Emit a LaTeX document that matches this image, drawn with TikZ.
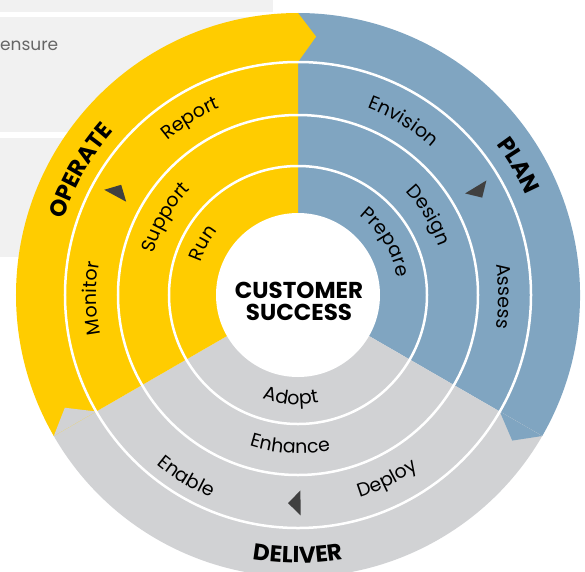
\documentclass[tikz,border=0pt]{standalone}
\usepackage{fontspec}
\setmainfont{Poppins}
\usetikzlibrary{decorations.text}

\definecolor{operatecol}{HTML}{FFCC00}
\definecolor{plancol}{HTML}{80A5C1}
\definecolor{delivercol}{HTML}{D1D2D4}
\definecolor{panelcol}{HTML}{F1F1F1}
\definecolor{markcol}{HTML}{404040}

\newcommand{\stagefont}{\fontsize{19}{21}\selectfont}
\newcommand{\phasefont}{\fontsize{23}{25}\selectfont\bfseries}

\tikzset{
  ringline/.style={white, line width=2.5pt},
  marker/.style={fill=markcol},
  stagelabel/.style={decoration={text along path, text align=center, text={|\stagefont|#1}}, decorate},
  phaselabel/.style={decoration={text along path, text align=center, text={|\phasefont|#1}}, decorate},
}

\begin{document}
\begin{tikzpicture}[x=1pt,y=1pt]
\useasboundingbox (-298,-276) rectangle (287,295);
\clip (-298,-276) rectangle (287,295);
% panels behind the wheel
\fill[panelcol] (-298,295) rectangle (-25,283);
\fill[panelcol] (-298,278) rectangle (-25,163);
\fill[panelcol] (-298,157) rectangle (-25,38);
\node[anchor=base west, inner sep=0pt, text=black!60, font=\fontsize{17}{19}\selectfont] (note) at (-298,245) {ensure};
% the three sectors
\fill[plancol] (0,0) -- (-30:282) arc[start angle=-30, end angle=90, radius=282] -- cycle;
\fill[delivercol] (0,0) -- (210:282) arc[start angle=210, end angle=330, radius=282] -- cycle;
\fill[operatecol] (0,0) -- (90:282) arc[start angle=90, end angle=210, radius=282] -- cycle;
% arrow tips of the outer band
\fill[operatecol] (90:233) -- (86:259) -- (90:282) -- cycle;
\fill[plancol] (-30:233) -- (-34.2:259) -- (-30:282) -- cycle;
\fill[delivercol] (210:233) -- (205.8:259) -- (210:282) -- cycle;
% rings
\draw[ringline] (0,0) circle (129);
\draw[ringline] (0,0) circle (180);
\draw[ringline] (0,0) circle (233);
\fill[white] (0,0) circle (82);
% direction markers
\fill[marker, rotate=151.5] (195.5,0) -- (220.5,0) -- (208,-12.5) -- cycle;
\fill[marker, rotate=31.3] (195.5,0) -- (220.5,0) -- (208,-12.5) -- cycle;
\fill[marker, rotate=270.7] (195.5,0) -- (220.5,0) -- (208,-12.5) -- cycle;
% hub
\node[align=center, inner sep=0pt, font=\fontsize{23}{22}\selectfont\bfseries] (hub) at (1,-6) {CUSTOMER\\SUCCESS};
% operate
\path[stagelabel=Run] (191.5:102.5) arc[start angle=191.5, end angle=111.5, radius=102.5];
\path[stagelabel=Support] (189.8:150.5) arc[start angle=189.8, end angle=109.8, radius=150.5];
\path[stagelabel=Report] (161.4:202.5) arc[start angle=161.4, end angle=81.4, radius=202.5];
\path[stagelabel=Monitor] (221:201.5) arc[start angle=221, end angle=141, radius=201.5];
\path[phaselabel=OPERATE] (190.3:246.5) arc[start angle=190.3, end angle=110.3, radius=246.5];
% plan
\path[stagelabel=Prepare] (71:100.5) arc[start angle=71, end angle=-9, radius=100.5];
\path[stagelabel=Design] (71.4:149) arc[start angle=71.4, end angle=-8.6, radius=149];
\path[stagelabel=Envision] (98.7:199.5) arc[start angle=98.7, end angle=18.7, radius=199.5];
\path[stagelabel=Assess] (39.7:200.5) arc[start angle=39.7, end angle=-40.3, radius=200.5];
\path[phaselabel=PLAN] (70.4:249) arc[start angle=70.4, end angle=-9.6, radius=249];
% deliver
\path[stagelabel=Adopt] (226:109.5) arc[start angle=226, end angle=306, radius=109.5];
\path[stagelabel=Enhance] (227:158.5) arc[start angle=227, end angle=307, radius=158.5];
\path[stagelabel=Enable] (198.4:220.5) arc[start angle=198.4, end angle=278.4, radius=220.5];
\path[stagelabel=Deploy] (255.8:211.5) arc[start angle=255.8, end angle=335.8, radius=211.5];
\path[phaselabel=DELIVER] (230:268) arc[start angle=230, end angle=310, radius=268];
\end{tikzpicture}
\end{document}
